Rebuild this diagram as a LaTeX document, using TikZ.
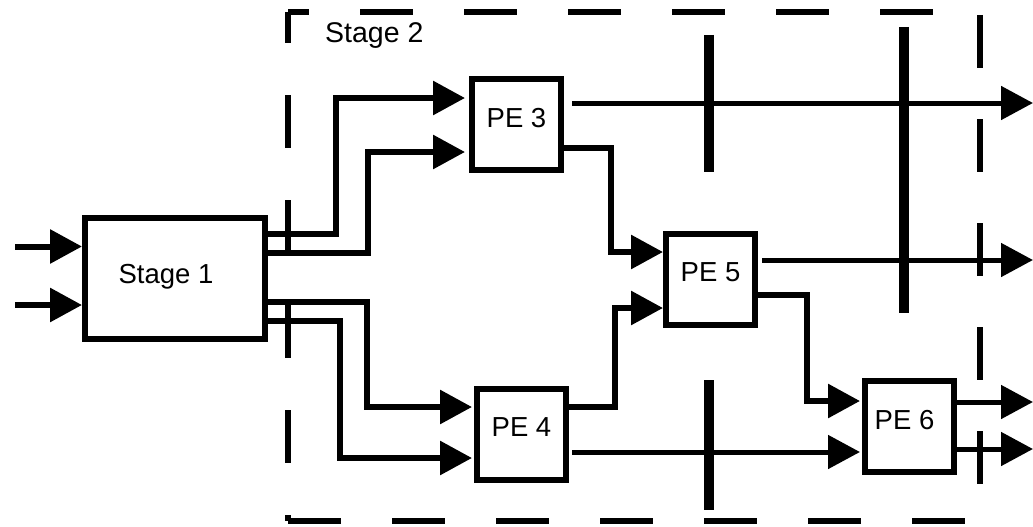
\documentclass[tikz,border=0pt]{standalone}
\usepackage{fontspec}
\setmainfont{Liberation Sans}
\usetikzlibrary{arrows.meta}
\begin{document}
\begin{tikzpicture}[x=1pt,y=-1pt,
  box/.style={draw,line width=6pt,minimum width=89pt,minimum height=91pt,inner sep=0pt,
    font=\fontsize{27.5}{33}\selectfont,text height=20pt,text depth=15pt},
  conn/.style={line width=6pt,-{Triangle[length=32pt,width=33pt]}},
  thin/.style={line width=5pt,-{Triangle[length=32pt,width=33pt]}},
  wire/.style={line width=6pt},
  bar/.style={line width=10pt},
  border/.style={line width=6pt}]
\useasboundingbox (0,0) rectangle (1033,527);
% stage 2 dashed frame
\draw[border,dash pattern=on 53pt off 51pt,dash phase=32pt] (288,12) -- (980,12);
\draw[border,dash pattern=on 53pt off 52pt,dash phase=22pt] (288,12) -- (288,521);
\draw[border,dash pattern=on 53pt off 51pt] (288,521) -- (980,521);
\draw[border,dash pattern=on 53pt off 51pt,dash phase=101pt] (980,12) -- (980,521);
\node[anchor=base west,inner sep=0pt,font=\fontsize{28.5}{34}\selectfont] (st2) at (325,43) {Stage 2};
% boxes
\node[box,minimum width=180pt,minimum height=121pt,text height=20pt,text depth=11pt] (s1) at (175,278.5) {Stage 1\hspace*{18pt}};
\node[box] (pe3) at (516.5,124.5) {PE 3};
\node[box] (pe5) at (710.5,279) {PE 5};
\node[box] (pe4) at (521.5,434) {PE 4};
\node[box] (pe6) at (909.5,426.5) {PE 6\hspace*{10pt}};
% free ends
\coordinate (i1) at (15,246.5);
\coordinate (i2) at (15,305);
\coordinate (o1) at (1033,103);
\coordinate (o2) at (1033,260);
\coordinate (o3) at (1033,402);
\coordinate (o4) at (1033,449);
% inputs of stage 1
\draw[conn] (i1) -- ([yshift=32pt]s1.west);
\draw[conn] (i2) -- ([yshift=-26.5pt]s1.west);
% stage 1 to PE3 / PE4
\draw[conn,shorten >=4pt] ([yshift=44.5pt]s1.east) -| (336,98) -- ([yshift=26.5pt]pe3.west);
\draw[conn,shorten >=4pt] ([yshift=26pt]s1.east) -| (368,152) -- ([yshift=-27.5pt]pe3.west);
\draw[conn,shorten >=2pt] ([yshift=-23.5pt]s1.east) -| (367,407) -- ([yshift=27pt]pe4.west);
\draw[conn,shorten >=2pt] ([yshift=-42.5pt]s1.east) -| (340,458) -- ([yshift=-24pt]pe4.west);
% PE3, PE4 to PE5
\draw[conn] ([yshift=-23.5pt]pe3.east) -| (611,252) -- ([yshift=27pt]pe5.west);
\draw[conn] ([yshift=27pt]pe4.east) -| (615,308) -- ([yshift=-29pt]pe5.west);
% PE5, PE4 to PE6
\draw[conn,shorten >=2pt] ([yshift=-16pt]pe5.east) -| (807,401) -- ([yshift=25.5pt]pe6.west);
\draw[thin,shorten >=2pt] ([xshift=3pt,yshift=-18pt]pe4.east) -- ([yshift=-25.5pt]pe6.west);
% outputs
\draw[thin] ([xshift=8pt,yshift=21.5pt]pe3.east) -- (o1);
\draw[thin] ([xshift=4pt,yshift=19pt]pe5.east) -- (o2);
\draw[thin] ([yshift=24.5pt]pe6.east) -- (o3);
\draw[thin] ([yshift=-22.5pt]pe6.east) -- (o4);
% registers (bars)
\draw[bar] (709,35) -- (709,172);
\draw[bar] (709,380) -- (709,510);
\draw[bar] (904,27) -- (904,313);
\end{tikzpicture}
\end{document}
